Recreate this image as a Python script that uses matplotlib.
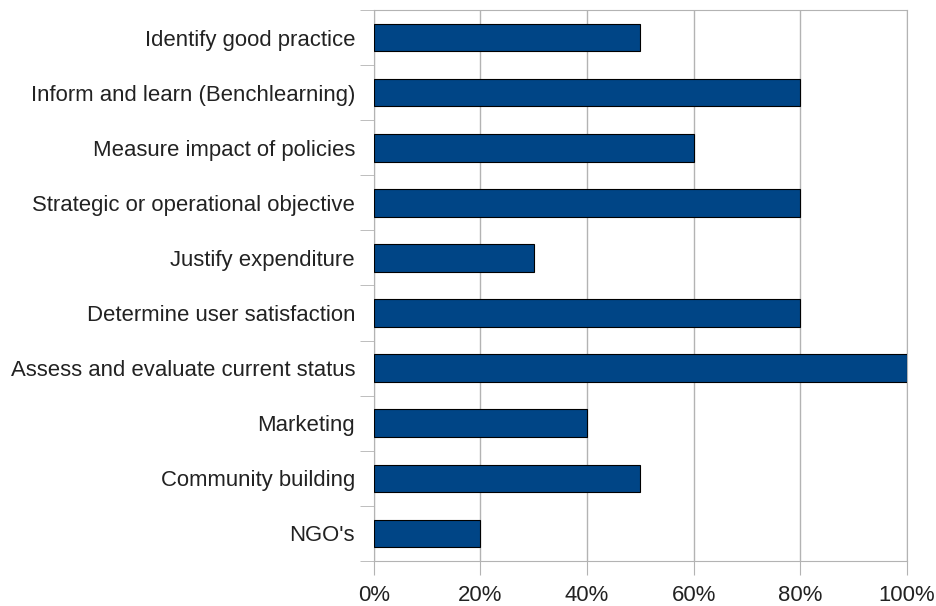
import matplotlib.pyplot as plt
import numpy as np

plt.rcParams['font.family'] = ['Liberation Sans', 'DejaVu Sans']

categories = ["Identify good practice", "Inform and learn (Benchlearning)",
              "Measure impact of policies", "Strategic or operational objective",
              "Justify expenditure", "Determine user satisfaction",
              "Assess and evaluate current status", "Marketing",
              "Community building", "NGO's"]
values = [50, 80, 60, 80, 30, 80, 100, 40, 50, 20]
x_ticks = [0, 20, 40, 60, 80, 100]
x_labels = ["0%", "20%", "40%", "60%", "80%", "100%"]

fig = plt.figure(figsize=(9.37, 6.06), dpi=100)
ax = fig.add_axes([0.399, 0.0743, 0.569, 0.9092])

y = np.arange(len(categories))
ax.barh(y, values, height=0.5, color='#004586', edgecolor='black', linewidth=0.8, zorder=3)

ax.set_ylim(len(categories) - 0.5, -0.5)
ax.set_xlim(0, 100)
ax.set_yticks(y)
ax.set_yticklabels(categories, fontsize=15.9, color='#222222')
ax.set_yticks(np.arange(-0.5, len(categories)), minor=True)
ax.tick_params(axis='y', which='major', length=0, pad=13.5)
ax.tick_params(axis='y', which='minor', length=10, color='#b3b3b3')
ax.set_xticks(x_ticks)
ax.set_xticklabels(x_labels, fontsize=15.9, color='#222222')
ax.tick_params(axis='x', length=10, color='#b3b3b3', pad=7)

ax.grid(axis='x', color='#b3b3b3', linewidth=1, zorder=0)
for s in ax.spines.values():
    s.set_color('#b3b3b3')

fig.savefig('out.png', dpi=100)
